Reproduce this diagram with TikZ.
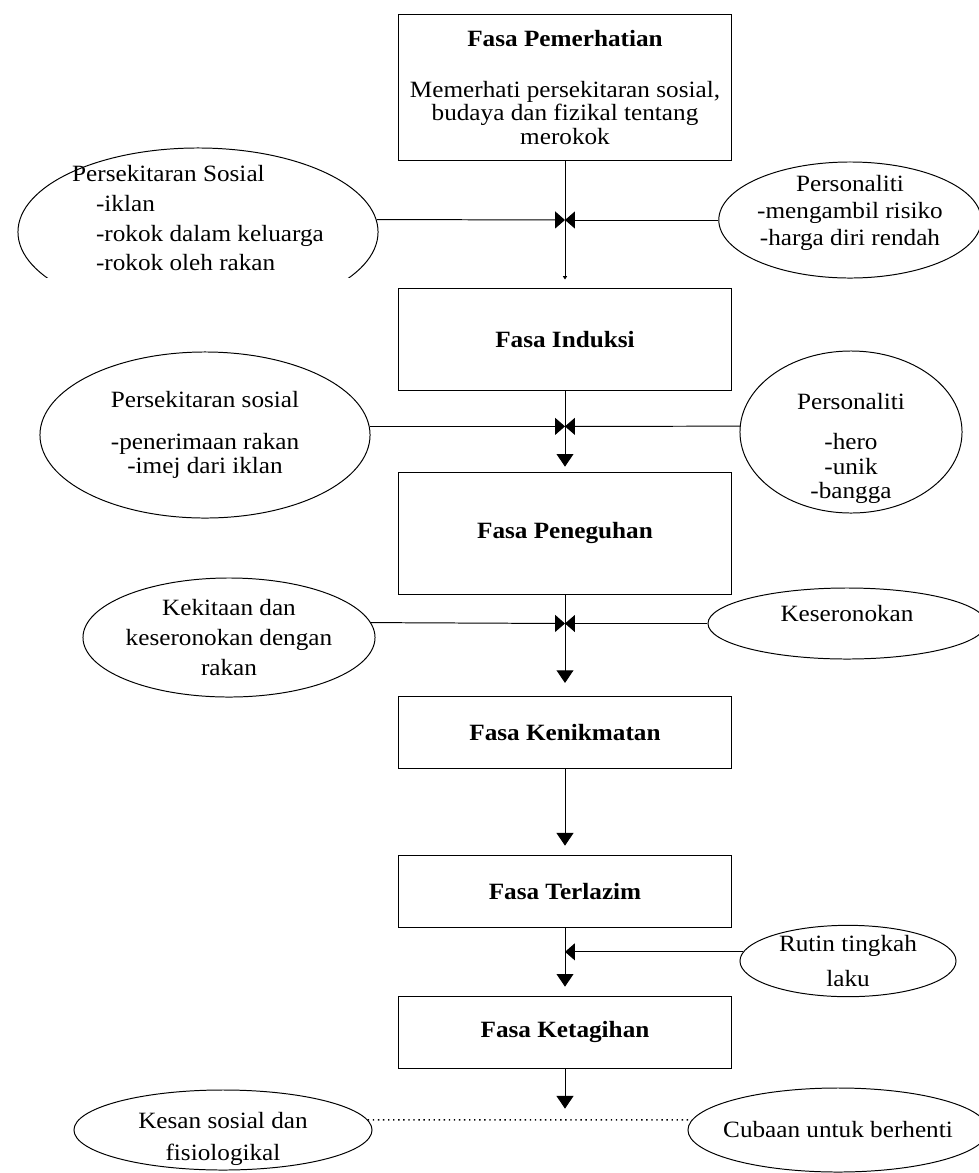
\documentclass[tikz,border=0pt]{standalone}
\usepackage{fontspec}
\setmainfont{Liberation Serif}[FakeStretch=1.08]
\usetikzlibrary{shapes.geometric, arrows.meta, positioning}

\newcommand{\diafont}{\fontsize{16.6}{16.7}\selectfont}

\begin{document}
\begin{tikzpicture}[x=0.025cm, y=-0.025cm, line width=0.7pt,
    every node/.style={font=\diafont},
    phase/.style={draw, rectangle, minimum width=8.3cm, inner sep=2pt, align=center, font=\diafont\bfseries},
    factor/.style={draw, ellipse, inner sep=0pt, align=center},
    flowarrow/.style={-{Triangle[length=9pt, width=12pt]}},
    sidearrow/.style={-{Triangle[length=7pt, width=12pt]}}]
    \useasboundingbox (0,0) rectangle (979,1173);

    % Phases
    \node (pem) [phase, font=\diafont, minimum height=3.625cm] at (565,87.5) {\textbf{Fasa Pemerhatian}\\[19pt] Memerhati persekitaran sosial,\\ budaya dan fizikal tentang\\ merokok};
    \node (ind) [phase, minimum height=2.55cm, below=3.175cm of pem] {Fasa Induksi};
    \node (pen) [phase, minimum height=3.05cm, below=2.025cm of ind] {Fasa Peneguhan};
    \node (ken) [phase, minimum height=1.8cm, below=2.525cm of pen] {Fasa Kenikmatan};
    \node (ter) [phase, minimum height=1.8cm, below=2.15cm of ken] {Fasa Terlazim};
    \node (ket) [phase, minimum height=1.8cm, below=1.7cm of ter] {Fasa Ketagihan};

    % Factors
    \begin{scope}
        \clip (0,0) rectangle (979,277);
        \node (sosA) [factor, align=left, inner ysep=-12pt, minimum width=9cm, minimum height=4.2cm] at (198,232) {Persekitaran Sosial\\[4.6pt] \hspace*{17pt}-iklan\\[4.6pt] \hspace*{17pt}-rokok dalam keluarga\\[4.6pt] \hspace*{17pt}-rokok oleh rakan\rule[-20pt]{0pt}{20pt}};
    \end{scope}
    \node (perA) [factor, inner ysep=-5pt, minimum width=6.4cm, minimum height=2.9cm] at (850,220) {Personaliti\\[2.5pt] -mengambil risiko\\[2.5pt] -harga diri rendah\rule[-14pt]{0pt}{14pt}};
    \node (sosB) [factor, minimum width=8.25cm, minimum height=4.15cm] at (205,435) {Persekitaran sosial\\[13pt] -penerimaan rakan\\[1pt] -imej dari iklan};
    \node (perB) [factor, inner ysep=-11pt, minimum width=5.55cm, minimum height=4.05cm] at (851,432) {\rule{0pt}{35pt}Personaliti\\[11.8pt] -hero\\[1pt] -unik\\ -bangga};
    \node (kek) [factor, minimum width=7.05cm, minimum height=2.975cm] at (229,637.5) {Kekitaan dan\\[4.6pt] keseronokan dengan\\[4.6pt] rakan};
    \node (ser) [factor, minimum width=6.95cm, minimum height=1.775cm] at (847,623.5) {Keseronokan\rule[-14pt]{0pt}{14pt}};
    \node (rutin) [factor, minimum width=5.4cm, minimum height=1.7cm] at (848,961) {Rutin tingkah\\[7.5pt] laku};
    \node (kesan) [factor, inner ysep=-8pt, minimum width=7.45cm, minimum height=2cm] at (223,1130) {\rule{0pt}{24pt}Kesan sosial dan\\[6pt] fisiologikal};
    \node (cuba) [factor, inner xsep=-8pt, minimum width=7.5cm, minimum height=2.1cm] at (838,1130) {Cubaan untuk berhenti};

    % Junctions on the main line
    \coordinate (j1) at (pem.south |- perA.west);
    \coordinate (j2) at (ind.south |- sosB.3);
    \coordinate (j3) at (pen.south |- ser.west);
    \coordinate (j5) at (ter.south |- rutin.175);
    \coordinate (j6) at (ket.south |- kesan.4);

    % Connections
    \draw[-{Triangle[length=2.5pt, width=3pt]}, shorten >=5.7pt] (pem) -- (ind);
    \draw[sidearrow] (sosA.4) -- (j1);
    \draw[sidearrow] (perA.west) -- (j1);
    \draw[flowarrow, shorten >=3.5pt] (ind) -- (pen);
    \draw[sidearrow] (sosB.3) -- (j2);
    \draw[sidearrow] (perB.177) -- (j2);
    \draw[flowarrow, shorten >=9pt] (pen) -- (ken);
    \draw[sidearrow] (kek.6) -- (j3);
    \draw[sidearrow] (ser.west) -- (j3);
    \draw[flowarrow, shorten >=6.4pt] (ken) -- (ter);
    \draw[flowarrow, shorten >=6.4pt] (ter) -- (ket);
    \draw[sidearrow] (rutin.175) -- (j5);
    \draw[flowarrow, shorten >=8pt] (ket) -- (j6);
    \draw[dash pattern=on 1pt off 2.6pt, line width=1.1pt] (kesan.4) -- (cuba.176);
\end{tikzpicture}
\end{document}
